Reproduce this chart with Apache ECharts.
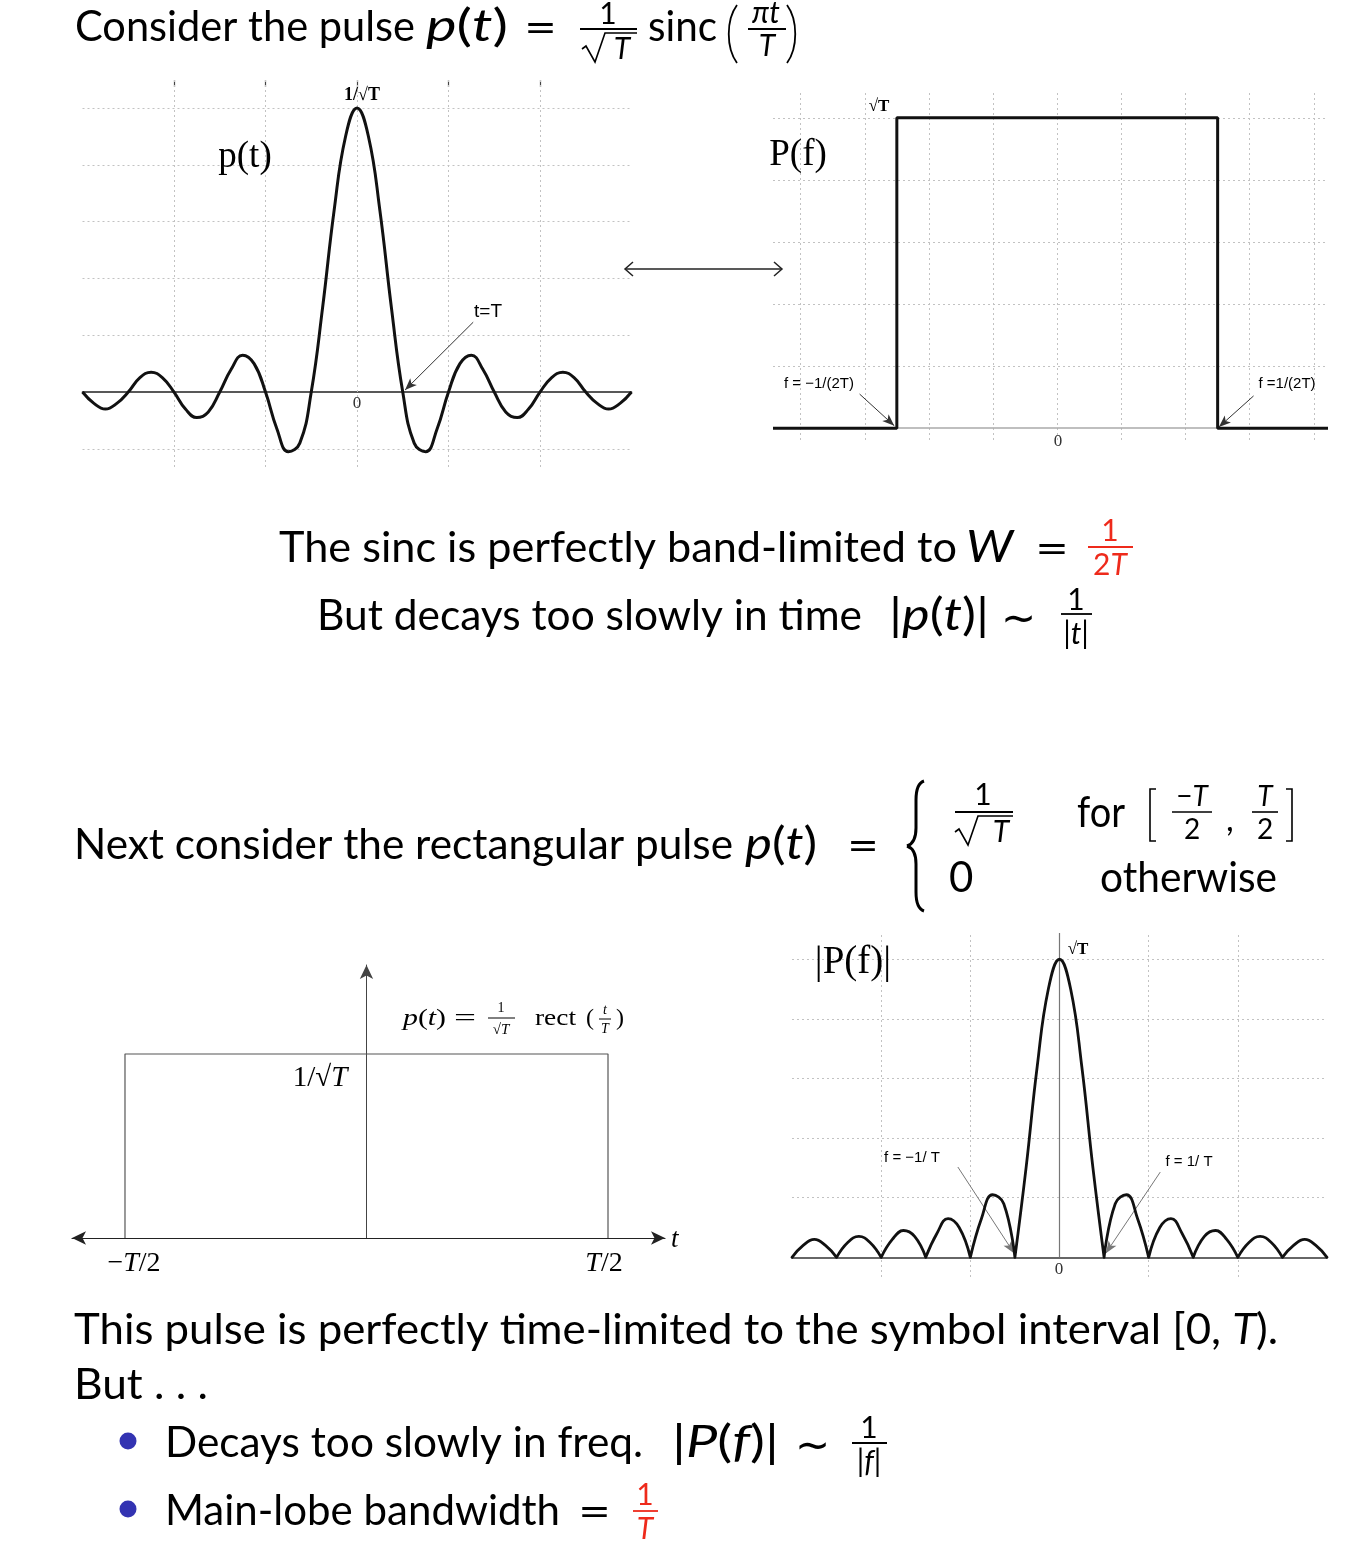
<!DOCTYPE html>
<html><head><meta charset="utf-8">
<script src="https://cdn.jsdelivr.net/npm/echarts@6/dist/echarts.min.js"></script>
<style>html,body{margin:0;padding:0;background:#fff}#c{width:1364px;height:1554px}</style>
</head><body><div id="c"></div>
<script>
// ---------- data ----------
// sinc pulse p(t), t in units of T
const sincT = [-6,-5.75,-5.5,-5.25,-5,-4.75,-4.5,-4.25,-4,-3.75,-3.5,-3.25,-3,-2.75,-2.5,-2.25,-2,-1.75,-1.5,-1.25,-1,-0.75,-0.5,-0.25,0,0.25,0.5,0.75,1,1.25,1.5,1.75,2,2.25,2.5,2.75,3,3.25,3.5,3.75,4,4.25,4.5,4.75,5,5.25,5.5,5.75,6];
const sincP = [0,-0.04,-0.06,-0.04,0,0.05,0.07,0.05,0,-0.06,-0.09,-0.07,0,0.08,0.13,0.10,0,-0.13,-0.21,-0.18,0,0.30,0.64,0.90,1.00,0.90,0.64,0.30,0,-0.18,-0.21,-0.13,0,0.10,0.13,0.08,0,-0.07,-0.09,-0.06,0,0.05,0.07,0.05,0,-0.04,-0.06,-0.04,0];
// rectangular spectrum P(f), f in grid units (edges at +-1/(2T))
const rectF = [-4.43,-2.5,-2.5,2.5,2.5,4.22];
const rectP = [0,0,1,1,0,0];
// rectangular pulse p(t), t in units of T
const pulseT = [-0.5,-0.5,0.5,0.5];
const pulseV = [0,1,1,0];
// |P(f)|, f in units of 1/T
const specF = [-6,-5.75,-5.5,-5.25,-5,-4.75,-4.5,-4.25,-4,-3.75,-3.5,-3.25,-3,-2.75,-2.5,-2.25,-2,-1.75,-1.5,-1.25,-1,-0.75,-0.5,-0.25,0,0.25,0.5,0.75,1,1.25,1.5,1.75,2,2.25,2.5,2.75,3,3.25,3.5,3.75,4,4.25,4.5,4.75,5,5.25,5.5,5.75,6];
const specMag = [0,0.04,0.06,0.04,0,0.05,0.07,0.05,0,0.06,0.09,0.07,0,0.08,0.13,0.10,0,0.13,0.21,0.18,0,0.30,0.64,0.90,1.00,0.90,0.64,0.30,0,0.18,0.21,0.13,0,0.10,0.13,0.08,0,0.07,0.09,0.06,0,0.05,0.07,0.05,0,0.04,0.06,0.04,0];
// grid / tick values
const sincGridX = [-4,-2,0,2,4];
const sincGridY = [-0.2,0.2,0.4,0.6,0.8,1.0];
const rectGridX = [-4,-3,-2,-1,0,1,2,3,4];
const rectGridY = [0.2,0.4,0.6,0.8,1.0];
const specGridX = [-4,-2,2,4];
const specGridY = [0.2,0.4,0.6,0.8,1.0];
// annotation arrows [from, to]
const arrowTT = [[2.54,0.246],[1.05,0.007]];
const arrowRL = [[-3.08,0.11],[-2.54,0.008]];
const arrowRR = [[3.06,0.104],[2.52,0.004]];
const arrowSL = [[-2.28,0.303],[-1.02,0.014]];
const arrowSR = [[2.26,0.286],[1.04,0.014]];

// ---------- build ----------
const sincData = sincT.map((t,i)=>[t,sincP[i]]);
const rectData = rectF.map((f,i)=>[f,rectP[i]]);
const pulseData = pulseT.map((t,i)=>[t,pulseV[i]]);
const specData = [];
specF.forEach((f,i)=>{
  const v = specMag[i];
  specData.push([f,v]);
  if (v === 0 && i > 0 && i < specF.length-1) { specData.push([f,'-']); specData.push([f,v]); }
});

const SANS = 'Lato, "Open Sans", sans-serif';
const SERIF = '"Liberation Serif", "DejaVu Serif", serif';
const ARIAL = '"Liberation Sans", Arial, sans-serif';
const S = 42;
const RED = '#ee2a1b';
const G = [];
const mctx = document.createElement('canvas').getContext('2d');
function measure(text, fs, ff, italic, weight) {
  mctx.font = (italic ? 'italic ' : '') + (weight || 'normal') + ' ' + fs + 'px ' + ff;
  return mctx.measureText(text.replace(/\{[a-z]\|([^}]*)\}/g, '$1')).width;
}
function txt(x, y, text, o) {
  o = o || {};
  const fs = o.size || S, ff = o.family || SANS, col = o.color || '#000', fw = o.weight || 'normal';
  const el = {type:'text', x:x, y:y, z:100, silent:true, style:{
    text:text, fill:col, fontSize:fs, fontFamily:ff, fontStyle:o.italic?'italic':'normal', fontWeight:fw,
    align:o.align||'left', verticalAlign:'middle', textAlign:o.align||'left', textVerticalAlign:'middle',
    rich:{ i:{fontStyle:'italic', fontSize:fs, fontFamily:ff, fill:col, fontWeight:fw},
           n:{fontStyle:'normal', fontSize:fs, fontFamily:ff, fill:col, fontWeight:fw} }
  }};
  if (o.right) {
    const w = measure(text, fs, ff, o.italic, fw);
    if (w > 0) el.scaleX = (o.right - x) / w;
  }
  G.push(el);
}
function ln(x1,y1,x2,y2,w,c){ G.push({type:'line', z:100, silent:true, shape:{x1,y1,x2,y2}, style:{stroke:c||'#000', lineWidth:w||1.6}}); }
function poly(pts,w,c){ G.push({type:'polyline', z:100, silent:true, shape:{points:pts}, style:{stroke:c||'#000', fill:null, lineWidth:w||1.6}}); }
function bez(x1,y1,cx1,cy1,cx2,cy2,x2,y2,w){ G.push({type:'bezierCurve', z:100, silent:true, shape:{x1,y1,cpx1:cx1,cpy1:cy1,cpx2:cx2,cpy2:cy2,x2,y2}, style:{stroke:'#000', fill:null, lineWidth:w||3}}); }
function dot(cx,cy,r,c){ G.push({type:'circle', z:100, silent:true, shape:{cx,cy,r}, style:{fill:c}}); }
function rad(x, yb, xEnd, c){ poly([[x,yb+16],[x+4,yb+13],[x+13,yb+29],[x+23,yb],[xEnd,yb]],1.6,c); }
const M = 44; // math size

// ---- title line ----
txt(75, 27, 'Consider the pulse', {right:415});
txt(426, 27, '{i|p}({i|t})', {size:M, right:509});
txt(524, 28, '=', {right:557});
txt(608, 14, '1', {align:'center', size:30});
ln(580, 29, 637, 29, 1.8);
rad(582, 33, 637);
txt(622, 49, 'T', {align:'center', size:30, italic:true});
txt(648, 27, 'sinc', {right:717});
bez(737,5, 726,20, 726,48, 737,63, 1.8);
bez(787,5, 798,20, 798,48, 787,63, 1.8);
txt(766, 13, 'πt', {align:'center', size:30, italic:true});
ln(748, 29, 786, 29, 1.8);
txt(767, 46, 'T', {align:'center', size:30, italic:true});

// ---- middle lines ----
txt(279, 548, 'The sinc is perfectly band-limited to', {right:957});
txt(966, 548, 'W', {italic:true, size:M, right:1013});
txt(1035, 549, '=', {right:1069});
txt(1110, 531, '1', {align:'center', size:30, color:RED});
ln(1088, 547, 1133, 547, 1.8, RED);
txt(1110, 565, '2{i|T}', {align:'center', size:30, color:RED});

txt(317, 616, 'But decays too slowly in time', {right:862});
txt(889, 616, '|{i|p}({i|t})|', {size:M, right:990});
txt(1018, 618, '∼', {align:'center'});
txt(1076, 600, '1', {align:'center', size:30});
ln(1061, 614, 1092, 614, 1.8);
txt(1076, 634, '|{i|t}|', {align:'center', size:30});

// ---- rectangular pulse definition ----
txt(74, 845, 'Next consider the rectangular pulse', {right:733});
txt(745, 845, '{i|p}({i|t})', {size:M, right:818});
txt(847, 846, '=', {right:879});
bez(924,781, 918,783, 916,790, 916,800, 3);
ln(916,800,916,828,3);
bez(916,828, 916,838, 913,844, 907,846, 3);
bez(907,846, 913,848, 916,854, 916,864, 3);
ln(916,864,916,892,3);
bez(916,892, 916,902, 918,909, 924,911, 3);
txt(983, 795, '1', {align:'center', size:30});
ln(955, 812, 1013, 812, 1.8);
rad(955, 816, 1013);
txt(1001, 832, 'T', {align:'center', size:30, italic:true});
txt(949, 878, '0');
txt(1077, 813, 'for', {right:1125});
poly([[1156,789],[1150,789],[1150,841],[1156,841]], 1.6);
poly([[1286,789],[1292,789],[1292,841],[1286,841]], 1.6);
txt(1192, 797, '−{i|T}', {align:'center', size:28});
ln(1172, 812, 1212, 812, 1.6);
txt(1192, 830, '2', {align:'center', size:28});
txt(1226, 820, ',', {size:34});
txt(1265, 797, 'T', {align:'center', size:28, italic:true});
ln(1252, 812, 1278, 812, 1.6);
txt(1265, 830, '2', {align:'center', size:28});
txt(1100, 878, 'otherwise', {right:1277});

// ---- bottom text ----
txt(74, 1330, 'This pulse is perfectly time-limited to the symbol interval [0, {i|T}).', {right:1280});
txt(74, 1385, 'But . . .', {right:208});
dot(128, 1441, 8.5, '#3333b2');
txt(165, 1443, 'Decays too slowly in freq.', {right:643});
txt(672, 1443, '|{i|P}({i|f})|', {size:M, right:782});
txt(812, 1445, '∼', {align:'center'});
txt(869, 1428, '1', {align:'center', size:30});
ln(852, 1443, 887, 1443, 1.8);
txt(869, 1462, '|{i|f}|', {align:'center', size:30});
dot(128, 1509, 8.5, '#3333b2');
txt(165, 1511, 'Main-lobe bandwidth', {right:560});
txt(578, 1512, '=', {right:611});
txt(645, 1495, '1', {align:'center', size:30, color:RED});
ln(633, 1511, 658, 1511, 1.8, RED);
txt(645, 1529, 'T', {align:'center', size:30, italic:true, color:RED});

// ---- chart labels ----
txt(362, 95, '1/√T', {align:'center', size:18, family:SERIF, weight:'bold'});
txt(245, 157, 'p(t)', {align:'center', size:37, family:SERIF});
txt(488, 312, 't=T', {align:'center', size:19, family:ARIAL});
txt(357, 404, '0', {align:'center', size:17, family:SERIF, color:'#333'});
// double arrow
ln(625, 269, 782, 269, 1.5, '#222');
poly([[633,262],[625,269],[633,276]], 1.5, '#222');
poly([[774,262],[782,269],[774,276]], 1.5, '#222');

txt(879, 107, '√T', {align:'center', size:17, family:SERIF, weight:'bold'});
txt(798, 155, 'P(f)', {align:'center', size:37, family:SERIF});
txt(819, 384, 'f = −1/(2T)', {align:'center', size:15, family:ARIAL});
txt(1287, 384, 'f =1/(2T)', {align:'center', size:15, family:ARIAL});
txt(1058, 442, '0', {align:'center', size:17, family:SERIF, color:'#333'});

txt(403, 1019, '{i|p}({i|t})', {size:24, family:SERIF, right:446});
txt(454, 1019, '=', {size:24, family:SERIF, right:476});
txt(501, 1008, '1', {align:'center', size:14, family:SERIF});
ln(488, 1018, 515, 1018, 1, '#000');
txt(501, 1030, '√{i|T}', {align:'center', size:15, family:SERIF});
txt(535, 1019, 'rect', {size:24, family:SERIF, right:576});
txt(586, 1019, '(', {size:24, family:SERIF});
txt(605, 1010, 't', {align:'center', size:14, family:SERIF, italic:true});
ln(599, 1019, 611, 1019, 1, '#000');
txt(605, 1029, 'T', {align:'center', size:14, family:SERIF, italic:true});
txt(616, 1019, ')', {size:24, family:SERIF});
txt(320, 1078, '1/√{i|T}', {align:'center', size:29, family:SERIF});
txt(134, 1264, '−{i|T}/2', {align:'center', size:28, family:SERIF});
txt(604, 1264, '{i|T}/2', {align:'center', size:28, family:SERIF});
txt(671, 1240, 't', {size:27, family:SERIF, italic:true});

txt(853, 963, '|P(f)|', {align:'center', size:39, family:SERIF});
txt(1078, 950, '√T', {align:'center', size:17, family:SERIF, weight:'bold'});
txt(912, 1158, 'f = −1/ T', {align:'center', size:15, family:ARIAL});
txt(1189, 1162, 'f = 1/ T', {align:'center', size:15, family:ARIAL});
txt(1059, 1270, '0', {align:'center', size:17, family:SERIF, color:'#333'});

// ---------- chart ----------
const dotted = {type:[2,3], color:'#c2c2c2', width:1};
function arrowItem(pair, color) {
  return [{coord:pair[0], symbol:'none', lineStyle:{type:'solid', color:color, width:1}},
          {coord:pair[1], symbol:'arrow', symbolSize:[7,12]}];
}
function gridML(xs, ys, extra) {
  return {silent:true, animation:false, symbol:['none','none'], label:{show:false}, lineStyle:dotted,
    emphasis:{disabled:true},
    data:[].concat(xs.map(v=>({xAxis:v})), ys.map(v=>({yAxis:v})), extra||[])};
}
const hidden = {show:false};

const option = {
  animation:false,
  backgroundColor:'#ffffff',
  grid:[
    {left:82.5, top:80, width:549, height:387},
    {left:773, top:93, width:555, height:347},
    {left:72, top:965, width:593, height:273},
    {left:792, top:933, width:535, height:344}
  ],
  xAxis:[
    {gridIndex:0, type:'value', min:-6, max:6, axisLine:{show:true, onZero:true, lineStyle:{color:'#222', width:1.5}}, axisTick:hidden, splitLine:hidden, axisLabel:hidden},
    {gridIndex:0, type:'value', position:'top', min:-6, max:6, axisLine:{show:false, onZero:false}, axisTick:{show:true, inside:true, length:7, customValues:sincGridX, lineStyle:{color:'#444', width:1.2}}, axisLabel:hidden, splitLine:hidden},
    {gridIndex:1, type:'value', min:-4.43, max:4.22, axisLine:{show:false}, axisTick:hidden, splitLine:hidden, axisLabel:hidden},
    {gridIndex:2, type:'value', min:-0.6097, max:0.618, axisLine:{show:true, onZero:true, symbol:['arrow','arrow'], symbolSize:[10,14], lineStyle:{color:'#222', width:1.2}}, axisTick:hidden, splitLine:hidden, axisLabel:hidden},
    {gridIndex:3, type:'value', min:-6, max:6, axisLine:{show:false}, axisTick:hidden, splitLine:hidden, axisLabel:hidden}
  ],
  yAxis:[
    {gridIndex:0, type:'value', min:-0.264, max:1.099, show:false},
    {gridIndex:1, type:'value', min:-0.038, max:1.08, show:false},
    {gridIndex:2, type:'value', min:0, max:1.4837, axisLine:{show:true, onZero:true, symbol:['none','arrow'], symbolSize:[10,14], lineStyle:{color:'#444', width:1}}, axisTick:hidden, splitLine:hidden, axisLabel:hidden},
    {gridIndex:3, type:'value', min:-0.066, max:1.088, show:false}
  ],
  series:[
    {type:'line', xAxisIndex:0, yAxisIndex:0, data:[], z:1,
      markLine:gridML(sincGridX, sincGridY, [arrowItem(arrowTT,'#333')])},
    {type:'line', xAxisIndex:0, yAxisIndex:0, data:sincData, z:10, smooth:0.45, symbol:'none',
      lineStyle:{color:'#111', width:3}},
    {type:'line', xAxisIndex:2, yAxisIndex:1, data:[], z:1,
      markLine:gridML(rectGridX, rectGridY, [{yAxis:0, lineStyle:{type:'solid', color:'#aaa', width:1.5}}, arrowItem(arrowRL,'#333'), arrowItem(arrowRR,'#333')])},
    {type:'line', xAxisIndex:2, yAxisIndex:1, data:rectData, z:10, symbol:'none',
      lineStyle:{color:'#111', width:3}},
    {type:'line', xAxisIndex:3, yAxisIndex:2, data:pulseData, z:10, symbol:'none',
      lineStyle:{color:'#555', width:1.2}},
    {type:'line', xAxisIndex:4, yAxisIndex:3, data:[], z:1,
      markLine:gridML(specGridX, specGridY, [
        {yAxis:0, lineStyle:{type:'solid', color:'#666', width:2}},
        [{coord:[0,0], lineStyle:{type:'solid', color:'#777', width:1.2}}, {coord:[0,1.088]}],
        arrowItem(arrowSL,'#777'), arrowItem(arrowSR,'#777')])},
    {type:'line', xAxisIndex:4, yAxisIndex:3, data:specData, z:10, smooth:0.45, symbol:'none', connectNulls:false,
      lineStyle:{color:'#111', width:2.8, cap:'round', join:'round'}}
  ],
  graphic:{elements:G}
};
const chart = echarts.init(document.getElementById('c'), null, {renderer:'canvas', width:1364, height:1554});
chart.setOption(option);
</script>
</body></html>
